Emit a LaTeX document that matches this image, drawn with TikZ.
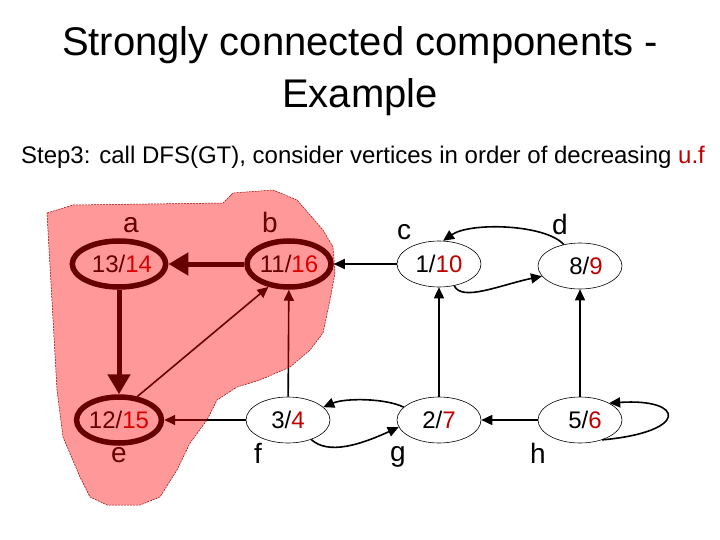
\documentclass[tikz,border=0pt]{standalone}
\usepackage{fontspec}
\setmainfont{Liberation Sans}
\usepackage{tikz}
\usetikzlibrary{shapes.geometric,arrows.meta}
\definecolor{fin}{RGB}{192,0,0}

\begin{document}
\begin{tikzpicture}[x=1pt,y=-1pt,
        vert/.style={ellipse,draw,line width=0.6pt,minimum width=84pt,minimum height=46pt,inner sep=0pt,font=\fontsize{24}{28}\selectfont},
        root/.style={vert,line width=5.5pt},
        vlabel/.style={anchor=base,font=\fontsize{28}{32}\selectfont},
        edge/.style={line width=1.6pt,-{Triangle[length=11pt,width=10pt]}},
        tree/.style={line width=5pt,-{Triangle[length=20pt,width=22pt]}}]
        \useasboundingbox (0,0) rectangle (720,540);

        % Title
        \node[align=center,font=\fontsize{40}{52}\selectfont] (title) at (360,71) {Strongly connected components -\\Example};
        \node[font=\fontsize{24}{28}\selectfont] (step) at (363,157) {Step3: call DFS(GT), consider vertices in order of decreasing \textcolor{fin}{u.f}};

        % Vertices
        \node[root] (a) at (119,264) {\hspace{6pt}13/\textcolor{fin}{14}};
        \node[root] (b) at (289,264) {11/\textcolor{fin}{16}};
        \node[vert] (c) at (439,264) {1/\textcolor{fin}{10}};
        \node[vert] (d) at (580,266) {\hspace{12pt}8/\textcolor{fin}{9}};
        \node[root] (e) at (119,420) {12/\textcolor{fin}{15}};
        \node[vert] (f) at (288,420) {3/\textcolor{fin}{4}};
        \node[vert] (g) at (439,420) {2/\textcolor{fin}{7}};
        \node[vert] (h) at (580,420) {\hspace{10pt}5/\textcolor{fin}{6}};

        % Names
        \node[vlabel] (na) at (131,233) {a};
        \node[vlabel] (nb) at (270,233) {b};
        \node[vlabel] (nc) at (404,240) {c};
        \node[vlabel] (nd) at (560,235) {d};
        \node[vlabel] (ne) at (119,462) {e};
        \node[vlabel] (nf) at (258,463) {f};
        \node[vlabel] (ng) at (398,461) {g};
        \node[vlabel] (nh) at (538,463) {h};

        % Edges of GT
        \draw[tree] (b) -- (a);
        \draw[tree] (a) -- (e);
        \draw[edge] (e.52) -- (b.228);
        \draw[edge] (f) -- (b);
        \draw[edge] (f) -- (e);
        \draw[edge] (c) -- (b);
        \draw[edge] (g) -- (c);
        \draw[edge] (h) -- (d);
        \draw[edge] (h) -- (g);
        \draw[edge] (c.-55) .. controls (462,302) and (500,285) .. (d.195);
        \draw[edge] (d.127) .. controls (545,224) and (470,222) .. (c.80);
        \draw[edge] (g.160) .. controls (385,398) and (345,398) .. (f.20);
        \draw[edge] (f.-40) .. controls (328,455) and (360,445) .. (g.190);
        \draw[edge] (h.-42) .. controls (690,432) and (685,398) .. (h.30);

        % Component found by the first tree
        \fill[red,fill opacity=0.4] (47,213) -- (73,205) -- (223,203) -- (233,193) -- (273,190)
            -- (297,200) -- (323,230) -- (333,247) -- (335,273) -- (330,300) -- (323,333)
            -- (310,350) -- (290,367) -- (260,380) -- (237,387) -- (217,400) -- (207,420)
            -- (190,443) -- (177,470) -- (160,497) -- (140,505) -- (107,505) -- (90,497)
            -- (80,477) -- (63,437) -- (57,390) -- cycle;
        \draw[red!60!black,line width=0.5pt,dash pattern=on 2pt off 1pt] (47,213) -- (73,205) -- (223,203) -- (233,193) -- (273,190)
            -- (297,200) -- (323,230) -- (333,247) -- (335,273) -- (330,300) -- (323,333)
            -- (310,350) -- (290,367) -- (260,380) -- (237,387) -- (217,400) -- (207,420)
            -- (190,443) -- (177,470) -- (160,497) -- (140,505) -- (107,505) -- (90,497)
            -- (80,477) -- (63,437) -- (57,390) -- cycle;
\end{tikzpicture}
\end{document}
